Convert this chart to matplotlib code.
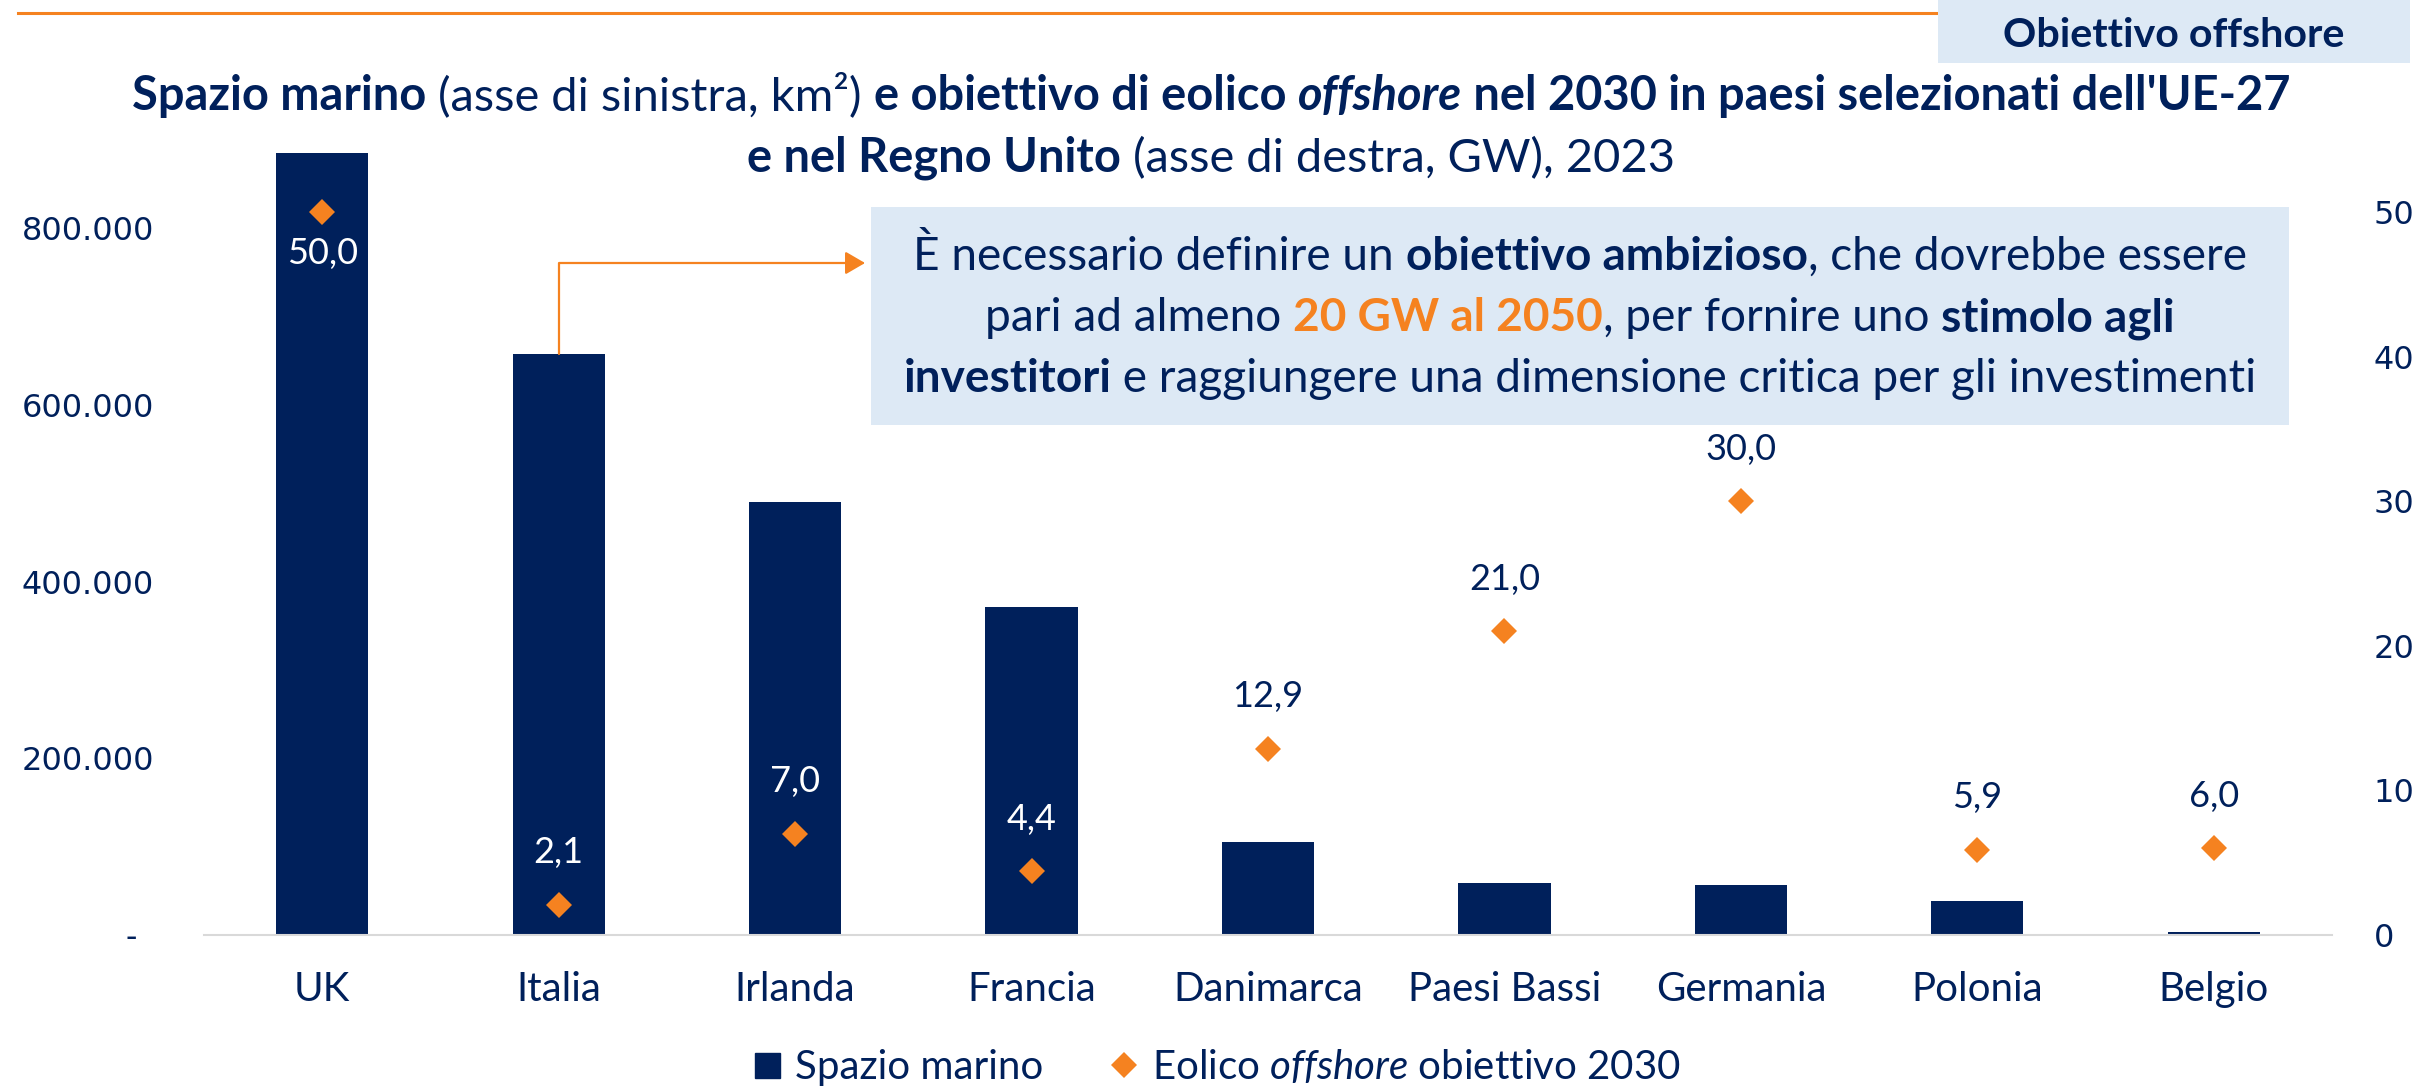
import matplotlib
matplotlib.use('Agg')
import matplotlib.pyplot as plt
from matplotlib.lines import Line2D
from matplotlib.patches import Rectangle

# dati
paesi = ['UK', 'Italia', 'Irlanda', 'Francia', 'Danimarca', 'Paesi Bassi', 'Germania', 'Polonia', 'Belgio']
spazio_marino = [885000, 658000, 490000, 371000, 105000, 59000, 57000, 38000, 3400]  # km2
obiettivo_gw = [50.0, 2.1, 7.0, 4.4, 12.9, 21.0, 30.0, 5.9, 6.0]  # GW al 2030

tick_sx = [0, 200000, 400000, 600000, 800000]
tick_dx = [0, 10, 20, 30, 40, 50]

NAVY = '#00205B'
ORANGE = '#F58220'
AZZURRO = '#DDE9F5'
GRIGIO = '#D9D9D9'
W, H = 2422, 1088

plt.rcParams['font.family'] = 'Lato'
plt.rcParams['mathtext.fontset'] = 'custom'
plt.rcParams['mathtext.it'] = 'Lato:italic'
plt.rcParams['mathtext.rm'] = 'Lato'

fig = plt.figure(figsize=(W / 100, H / 100), dpi=100)
ax = fig.add_axes([204 / W, 1 - 935 / H, 2128 / W, 795 / H])
ax2 = ax.twinx()

x = list(range(len(paesi)))
ax.bar(x, spazio_marino, width=0.39, color=NAVY, zorder=2)
ax2.plot(x, obiettivo_gw, 'D', ls='none', color=ORANGE, ms=13, mew=0, zorder=3)

ax.set_xlim(-0.5, len(paesi) - 0.5)
ax.set_ylim(0, 900000)
ax2.set_ylim(0, 55)

ax.set_xticks(x, paesi, fontsize=29, color=NAVY)
ax.set_yticks(tick_sx, ['-' if v == 0 else f'{v:,}'.replace(',', '.') for v in tick_sx],
              fontfamily='DejaVu Sans', fontsize=23, color=NAVY)
ax2.set_yticks(tick_dx, [str(v) for v in tick_dx], fontfamily='DejaVu Sans', fontsize=23, color=NAVY)
ax.tick_params(axis='x', length=0, pad=26)
ax.tick_params(axis='y', length=0, pad=36)
ax2.tick_params(axis='y', length=0, pad=30)
ax.yaxis.get_major_ticks()[0].set_pad(48)  # il "-" dello zero sta piu' a sinistra

for s in ['top', 'left', 'right']:
    ax.spines[s].set_visible(False)
for s in ax2.spines.values():
    s.set_visible(False)
ax.spines['bottom'].set_color(GRIGIO)
ax.spines['bottom'].set_linewidth(1.5)

# etichette dei valori (GW)
for i, v in enumerate(obiettivo_gw):
    sotto = i == 0
    dentro = spazio_marino[i] / 900000 * 55 > v + 4.6
    ax2.annotate(f'{v:.1f}'.replace('.', ','), (i, v), xytext=(0, -29.5 if sotto else 37.5),
                 textcoords='offset points', ha='center', va='center', fontsize=26,
                 color='white' if (sotto or dentro) else NAVY, zorder=4)

# freccia dalla barra Italia al riquadro
ax.annotate('', xy=(865 / W, 1 - 263 / H), xycoords='figure fraction',
            xytext=(1, spazio_marino[1]), textcoords='data',
            arrowprops=dict(arrowstyle='-|>,head_length=0.6,head_width=0.35', color=ORANGE, lw=1.6,
                            shrinkA=0, shrinkB=0, mutation_scale=20,
                            connectionstyle='angle,angleA=90,angleB=0,rad=0'))

# legenda
handles = [Line2D([], [], marker='s', ls='none', color=NAVY, ms=18),
           Line2D([], [], marker='D', ls='none', color=ORANGE, ms=13, mew=0)]
fig.legend(handles, ['Spazio marino', r'Eolico $\mathit{offshore}$ obiettivo 2030'],
           loc='center', bbox_to_anchor=(1216 / W, 1 - 1067 / H), ncol=2, frameon=False,
           fontsize=29, labelcolor=NAVY, handlelength=0.8, handletextpad=0.3, columnspacing=1.6)

# riquadri e linea in alto
fig.add_artist(Line2D([18 / W, 1938 / W], [1 - 13 / H, 1 - 13 / H], color=ORANGE, lw=2.2))
fig.add_artist(Rectangle((1938 / W, 1 - 63 / H), (2410 - 1938) / W, 63 / H, transform=fig.transFigure,
                         facecolor=AZZURRO, edgecolor='none', zorder=5))
fig.add_artist(Rectangle((871 / W, 1 - 425 / H), (2289 - 871) / W, (425 - 207) / H, transform=fig.transFigure,
                         facecolor=AZZURRO, edgecolor='none', zorder=5))

renderer = fig.canvas.get_renderer()


def larghezza(testo, **kw):
    t = fig.text(0, 0, '|' + testo + '|', **kw)
    r = fig.text(0, 0, '||', **kw)
    w = t.get_window_extent(renderer).width - r.get_window_extent(renderer).width
    t.remove()
    r.remove()
    return w


def stile(p, size):
    return dict(fontsize=size, fontweight=p[1], fontstyle=p[2], color=p[3] if len(p) > 3 else NAVY)


def misura(pezzi, size):
    return sum(larghezza(p[0], **stile(p, size)) for p in pezzi)


def riga(pezzi, cx, y, size):
    ws = [larghezza(p[0], **stile(p, size)) for p in pezzi]
    x0 = cx - sum(ws) / 2
    for p, w in zip(pezzi, ws):
        fig.text(x0 / W, 1 - y / H, p[0], ha='left', va='baseline', zorder=6, **stile(p, size))
        x0 += w


# titolo
titolo1 = [('Spazio marino', 'bold', 'normal'), (' (asse di sinistra, km²) ', 'normal', 'normal'),
           ('e obiettivo di eolico ', 'bold', 'normal'), ('offshore', 'bold', 'italic'),
           (" nel 2030 in paesi selezionati dell'UE-27", 'bold', 'normal')]
titolo2 = [('e nel Regno Unito', 'bold', 'normal'), (' (asse di destra, GW), 2023', 'normal', 'normal')]
st = 10 * 2162 / misura(titolo1, 10)
riga(titolo1, 1211, 110, st)
riga(titolo2, 1211, 172, st)

# riquadro di testo
box1 = [('È necessario definire un ', 'normal', 'normal'), ('obiettivo ambizioso', 'bold', 'normal'),
        (', che dovrebbe essere', 'normal', 'normal')]
box2 = [('pari ad almeno ', 'normal', 'normal'), ('20 GW al 2050', 'bold', 'normal', ORANGE),
        (', per fornire uno ', 'normal', 'normal'), ('stimolo agli', 'bold', 'normal')]
box3 = [('investitori', 'bold', 'normal'),
        (' e raggiungere una dimensione critica per gli investimenti', 'normal', 'normal')]
sb = 10 * 1336 / misura(box1, 10)
riga(box1, 1580, 270, sb)
riga(box2, 1580, 331, sb)
riga(box3, 1580, 392, sb)

# intestazione
intest = [('Obiettivo offshore', 'bold', 'normal')]
riga(intest, 2174, 47, 10 * 342 / misura(intest, 10))

fig.savefig('out.png', dpi=100)
